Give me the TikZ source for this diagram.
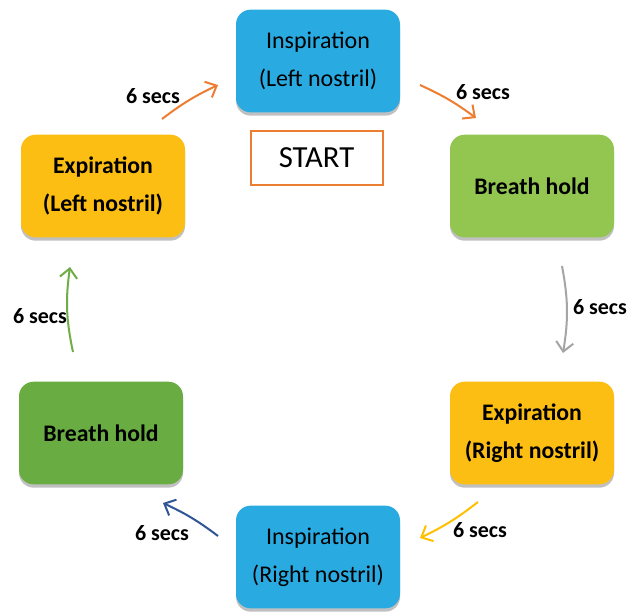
\documentclass[tikz,border=0pt]{standalone}
\usepackage{fontspec}
\setmainfont{Carlito}
\usetikzlibrary{arrows.meta,shadows}
\definecolor{cblue}{RGB}{41,171,226}
\definecolor{cgreenA}{RGB}{146,198,80}
\definecolor{cgreenB}{RGB}{104,172,66}
\definecolor{cyellow}{RGB}{253,190,20}
\definecolor{corange}{RGB}{237,125,49}
\definecolor{cgray}{RGB}{165,165,165}
\definecolor{cdblue}{RGB}{47,85,151}
\definecolor{cgreenarr}{RGB}{112,173,71}
\definecolor{cyelarr}{RGB}{255,192,0}
\begin{document}
\begin{tikzpicture}[x=0.75pt,y=-0.75pt,
  box/.style={rounded corners=11pt, minimum width=123pt, minimum height=77pt,
    align=center, font=\fontsize{18}{28.5}\selectfont, inner sep=0pt,
    drop shadow={shadow xshift=0pt,shadow yshift=-2.5pt,opacity=0.35,fill=black!70}},
  bbox/.style={box, font=\bfseries\fontsize{17.8}{28}\selectfont},
  lab/.style={font=\bfseries\fontsize{16.5}{18}\selectfont},
  conn/.style={line width=1.5pt,-{Straight Barb[length=7pt,width=13pt,line width=1.5pt]}}]
\useasboundingbox (0,0) rectangle (636,611);
\fill[white] (0,0) rectangle (636,611);
% boxes
\node[box, fill=cblue] (insL) at (318,61) {Inspiration\\(Left nostril)};
\node[draw=corange, line width=1.5pt, minimum width=99pt, minimum height=41pt, inner sep=0pt,
  font=\fontsize{23}{26}\selectfont] (start) at (316.5,158) {START};
\node[bbox, fill=cgreenA] (holdR) at (532,186) {Breath hold};
\node[bbox, fill=cyellow] (expL) at (103,186) {Expiration\\(Left nostril)};
\node[bbox, fill=cyellow] (expR) at (532,433) {Expiration\\(Right nostril)};
\node[bbox, fill=cgreenB] (holdL) at (101,433) {Breath hold};
\node[box, fill=cblue] (insR) at (318,557) {Inspiration\\(Right nostril)};
% connector end points
\coordinate (a1s) at (162,119); \coordinate (a1e) at (218,85);
\coordinate (a2s) at (420,85);  \coordinate (a2e) at (476,118);
\coordinate (a3s) at (562,266); \coordinate (a3e) at (563,353);
\coordinate (a4s) at (478,502); \coordinate (a4e) at (420,538);
\coordinate (a5s) at (218,536); \coordinate (a5e) at (163,503);
\coordinate (a6s) at (73,352);  \coordinate (a6e) at (70,267);
\draw[conn, corange] (a1s) to[bend left=6] (a1e);
\draw[conn, corange] (a2s) to[bend left=6] (a2e);
\draw[conn, cgray] (a3s) to[bend left=10] (a3e);
\draw[conn, cyelarr] (a4s) to[bend left=6] (a4e);
\draw[conn, cdblue] (a5s) to[bend right=6] (a5e);
\draw[conn, cgreenarr] (a6s) to[bend left=10] (a6e);
% labels
\node[lab] (l1) at (153,96) {6 secs};
\node[lab] (l2) at (483,92) {6 secs};
\node[lab] (l3) at (600,307) {6 secs};
\node[lab] (l4) at (480,530) {6 secs};
\node[lab] (l5) at (162,533) {6 secs};
\node[lab] (l6) at (40,316) {6 secs};
\end{tikzpicture}
\end{document}
